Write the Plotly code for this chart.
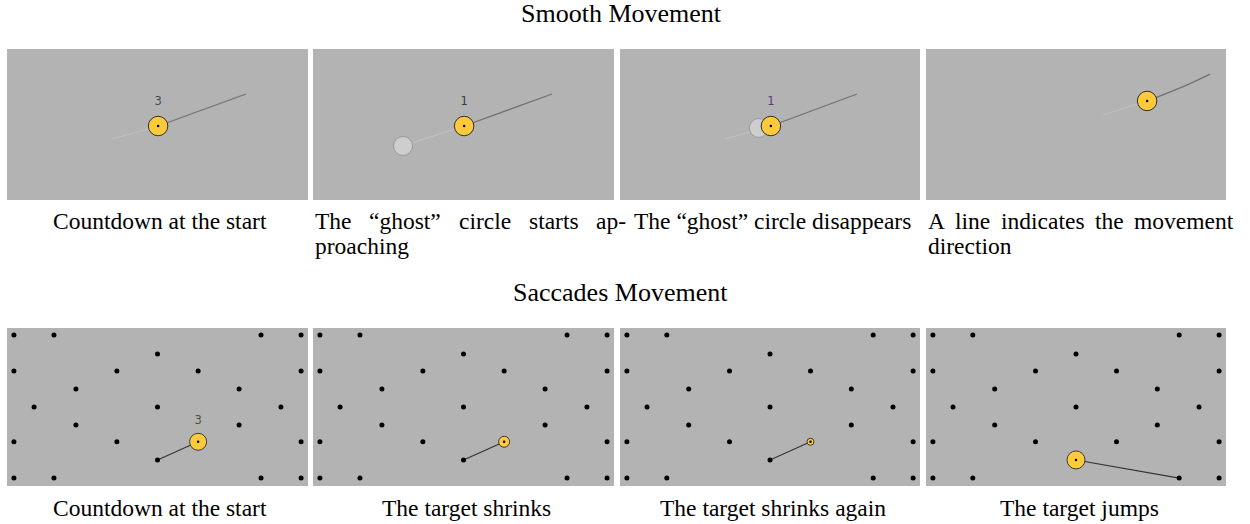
import plotly.graph_objects as go

W, H = 1250, 524
OFF = 0
BG = "#b3b3b3"
YELLOW = "#fdca3c"
FONT = "Liberation Serif"

# ---------------- data ----------------
# Smooth movement (percent of panel width / height, y measured from top)
smooth_traj_x = [[34.9, 50.2, 79.4], [29.9, 50.2, 79.4], [35.0, 50.3, 79.0], [59.0, 73.7, 86.5, 94.7]]
smooth_traj_y = [[59.6, 51.0, 29.8], [64.2, 51.0, 29.8], [59.6, 51.0, 29.8], [43.7, 34.4, 24.2, 16.6]]
smooth_target_x = [50.2, 50.2, 50.3, 73.7]
smooth_target_y = [51.0, 51.0, 51.0, 34.4]
smooth_ghost_x = [None, 29.9, 46.3, None]
smooth_ghost_y = [None, 64.2, 52.3, None]
smooth_count = ["3", "1", "1", None]
smooth_count_colors = ["#4a4a55", "#3a3a4a", "#5a3a70", None]

# Saccades movement: fixed grid of dots
dots_x = [2.3, 15.6, 84.4, 97.7,
          50.0,
          2.3, 36.5, 63.5, 97.7,
          22.9, 77.1,
          9.0, 50.0, 91.0,
          22.9, 77.1,
          2.3, 36.5, 63.5, 97.7,
          50.0,
          2.3, 15.6, 84.4, 97.7]
dots_y = [4.4, 4.4, 4.4, 4.4,
          16.5,
          27.2, 27.2, 27.2, 27.2,
          38.6, 38.6,
          50.0, 50.0, 50.0,
          61.4, 61.4,
          72.0, 72.0, 72.0, 72.0,
          83.5,
          95.0, 95.0, 95.0, 95.0]
sacc_target_x = [63.5, 63.5, 63.5, 50.0]
sacc_target_y = [72.0, 72.0, 72.0, 83.5]
sacc_target_size = [17, 11, 7, 18]
sacc_from_x = [50.0, 50.0, 50.0, 84.4]
sacc_from_y = [83.5, 83.5, 83.5, 95.0]
sacc_count = ["3", None, None, None]

titles = ["Smooth Movement", "Saccades Movement"]
# (first line, justified?, second line)
smooth_captions = [
    ("Countdown at the start", False, None),
    ("The “ghost” circle starts ap-", True, "proaching"),
    ("The “ghost” circle disappears", False, None),
    ("A line indicates the movement", True, "direction"),
]
sacc_captions = ["Countdown at the start", "The target shrinks",
                 "The target shrinks again", "The target jumps"]

# ---------------- layout geometry (reference pixels) ----------------
col_x = [(7, 308), (313, 614), (620, 920), (926, 1226)]
row_y = [(49, 200), (328, 486)]
text_col = [(7, 308), (313, 624), (620, 920), (926, 1231)]
CAP = 23.5
TITLE = 26

# Times / Liberation Serif advance widths (em) for justification
TW = {' ': .25, 'A': .722, 'T': .611, 'a': .444, 'c': .444, 'd': .5, 'e': .444, 'g': .5,
      'h': .5, 'i': .278, 'l': .278, 'm': .778, 'n': .5, 'o': .5, 'p': .5, 'r': .333,
      's': .389, 't': .278, 'v': .5, '-': .333, '“': .444, '”': .444}

def text_w(s, size):
    return sum(TW.get(ch, .5) for ch in s) * size

fig = go.Figure()

def ax_names(i):
    return ("x" if i == 0 else f"x{i+1}", "y" if i == 0 else f"y{i+1}")

def px_x(px):
    return (px - OFF) / W

def px_y(py):
    return 1 - (py - OFF) / H

layout_axes = {}
for r in range(2):
    for c in range(4):
        i = r * 4 + c
        x0, x1 = col_x[c]
        y0, y1 = row_y[r]
        xk = "xaxis" if i == 0 else f"xaxis{i+1}"
        yk = "yaxis" if i == 0 else f"yaxis{i+1}"
        xa, ya = ax_names(i)
        layout_axes[xk] = dict(domain=[max(0, px_x(x0)), px_x(x1)], range=[0, 100],
                               visible=False, anchor=ya, fixedrange=True)
        layout_axes[yk] = dict(domain=[px_y(y1), px_y(y0)], range=[100, 0],
                               visible=False, anchor=xa, fixedrange=True)

# Smooth panels
for c in range(4):
    xa, ya = ax_names(c)
    tx, ty = smooth_traj_x[c], smooth_traj_y[c]
    k = 1  # index of the target along the trajectory
    fig.add_trace(go.Scatter(x=tx[:k + 1], y=ty[:k + 1], mode="lines",
                             line=dict(color="#c0c0c0", width=1.2), xaxis=xa, yaxis=ya,
                             hoverinfo="skip"))
    fig.add_trace(go.Scatter(x=tx[k:], y=ty[k:], mode="lines", line_shape="spline",
                             line=dict(color="#727272", width=1.3), xaxis=xa, yaxis=ya,
                             hoverinfo="skip"))
    if smooth_ghost_x[c] is not None:
        fig.add_trace(go.Scatter(x=[smooth_ghost_x[c]], y=[smooth_ghost_y[c]], mode="markers",
                                 marker=dict(size=19, color="#cecece",
                                             line=dict(color="#9a9a9a", width=1)),
                                 xaxis=xa, yaxis=ya, hoverinfo="skip"))
    fig.add_trace(go.Scatter(x=[smooth_target_x[c]], y=[smooth_target_y[c]], mode="markers",
                             marker=dict(size=19.5, color=YELLOW,
                                         line=dict(color="#2e2e2e", width=1)),
                             xaxis=xa, yaxis=ya, hoverinfo="skip"))
    fig.add_trace(go.Scatter(x=[smooth_target_x[c]], y=[smooth_target_y[c]], mode="markers",
                             marker=dict(size=2.5, color="#000000"),
                             xaxis=xa, yaxis=ya, hoverinfo="skip"))
    if smooth_count[c] is not None:
        fig.add_trace(go.Scatter(x=[smooth_target_x[c]], y=[smooth_target_y[c] - 15.5],
                                 mode="text", text=[smooth_count[c]],
                                 textfont=dict(family="DejaVu Sans", size=11.5,
                                               color=smooth_count_colors[c]),
                                 xaxis=xa, yaxis=ya, hoverinfo="skip"))

# Saccade panels
for c in range(4):
    xa, ya = ax_names(4 + c)
    fig.add_trace(go.Scatter(x=[sacc_from_x[c], sacc_target_x[c]],
                             y=[sacc_from_y[c], sacc_target_y[c]], mode="lines",
                             line=dict(color="#333333", width=1.1), xaxis=xa, yaxis=ya,
                             hoverinfo="skip"))
    fig.add_trace(go.Scatter(x=dots_x, y=dots_y, mode="markers",
                             marker=dict(size=5, color="#000000"),
                             xaxis=xa, yaxis=ya, hoverinfo="skip"))
    fig.add_trace(go.Scatter(x=[sacc_target_x[c]], y=[sacc_target_y[c]], mode="markers",
                             marker=dict(size=sacc_target_size[c], color=YELLOW,
                                         line=dict(color="#3a3a3a", width=1)),
                             xaxis=xa, yaxis=ya, hoverinfo="skip"))
    fig.add_trace(go.Scatter(x=[sacc_target_x[c]], y=[sacc_target_y[c]], mode="markers",
                             marker=dict(size=2.5, color="#000000"),
                             xaxis=xa, yaxis=ya, hoverinfo="skip"))
    if sacc_count[c] is not None:
        fig.add_trace(go.Scatter(x=[sacc_target_x[c]], y=[sacc_target_y[c] - 13],
                                 mode="text", text=[sacc_count[c]],
                                 textfont=dict(family="DejaVu Sans", size=11.5, color="#5a4c3c"),
                                 xaxis=xa, yaxis=ya, hoverinfo="skip"))

# ---------------- text ----------------
ann = []
def add_text(text, px, py, anchor="center", size=CAP):
    ann.append(dict(text=text, x=px_x(px), y=px_y(py), xref="paper", yref="paper",
                    xanchor=anchor, yanchor="middle", showarrow=False,
                    font=dict(family=FONT, size=size, color="#000000")))

add_text(titles[0], 621, 14, size=TITLE)
add_text(titles[1], 620, 292, size=TITLE)

for c in range(4):
    line1, justify, line2 = smooth_captions[c]
    x0, x1 = text_col[c]
    if justify:
        words = line1.split(" ")
        widths = [text_w(w, CAP) for w in words]
        gap = ((x1 - x0) - sum(widths)) / (len(words) - 1)
        pos = x0
        for w, ww in zip(words, widths):
            add_text(w, pos, 221, "left")
            pos += ww + gap
        add_text(line2, x0, 246, "left")
    else:
        add_text(line1, (col_x[c][0] + col_x[c][1]) / 2 + 2, 221)
    add_text(sacc_captions[c], (col_x[c][0] + col_x[c][1]) / 2 + 3, 508)

fig.update_layout(width=W, height=H, margin=dict(l=0, r=0, t=0, b=0),
                  paper_bgcolor="#ffffff", plot_bgcolor=BG, showlegend=False,
                  annotations=ann, **layout_axes)

# remove the browser's default 8px body margin so the figure fills the window
fig.write_html("out.html", config={"displayModeBar": False, "staticPlot": True},
               post_script="document.body.style.margin='0';document.body.style.overflow='hidden';")
